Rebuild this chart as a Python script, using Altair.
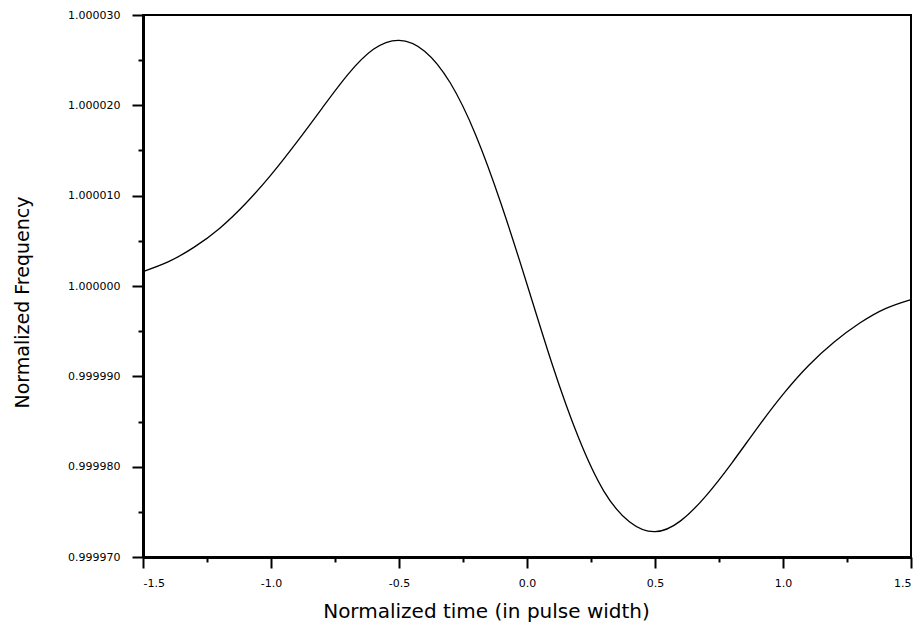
import altair as alt
import pandas as pd

# Normalized time (in pulse width)
time = [-1.5, -1.4, -1.3, -1.2, -1.1, -1.0, -0.9, -0.8, -0.7, -0.6,
        -0.5, -0.4, -0.3, -0.2, -0.1, 0.0, 0.1, 0.2, 0.3, 0.4,
        0.5, 0.6, 0.7, 0.8, 0.9, 1.0, 1.1, 1.2, 1.3, 1.4, 1.5]

# Normalized frequency
freq = [1.0000016, 1.0000027, 1.0000043, 1.0000064, 1.0000091, 1.0000123,
        1.0000159, 1.0000197, 1.0000234, 1.0000262, 1.0000272, 1.0000260,
        1.0000225, 1.0000167, 1.0000090, 1.0000002, 0.9999912, 0.9999833,
        0.9999773, 0.9999739, 0.9999728, 0.9999740, 0.9999768, 0.9999804,
        0.9999843, 0.9999880, 0.9999912, 0.9999938, 0.9999959, 0.9999975,
        0.9999985]

x_ticks = [-1.5, -1.25, -1.0, -0.75, -0.5, -0.25, 0.0, 0.25, 0.5, 0.75, 1.0, 1.25, 1.5]
y_ticks = [0.999970, 0.999975, 0.999980, 0.999985, 0.999990, 0.999995, 1.000000,
           1.000005, 1.000010, 1.000015, 1.000020, 1.000025, 1.000030]

df = pd.DataFrame({"t": time, "f": freq})

x_major = "abs(datum.value*2 - round(datum.value*2)) < 0.001"
y_major = "abs((datum.value-1)*100000 - round((datum.value-1)*100000)) < 0.01"

FONT = "DejaVu Sans"

x_axis = alt.Axis(
    values=x_ticks,
    labelExpr=f"({x_major}) ? replace(format(datum.value, '.1f'), '\u2212', '-') : ''",
    tickSize={"condition": {"test": x_major, "value": 11}, "value": 5},
    tickColor="black", tickWidth=2,
    domainColor="black", domainWidth=3,
    labelFont=FONT, labelFontSize=11, labelColor="black", labelPadding=9,
    labelOverlap=False, grid=False,
    title="Normalized time (in pulse width)",
    titleFont=FONT, titleFontSize=20, titleFontWeight="normal", titleColor="black",
    titleX=343, titleY=60, titleAlign="center", titleBaseline="alphabetic",
)

y_axis = alt.Axis(
    values=y_ticks,
    labelExpr=f"({y_major}) ? format(datum.value, '.6f') : ''",
    tickSize={"condition": {"test": y_major, "value": 11}, "value": 5},
    tickColor="black", tickWidth=2,
    domainColor="black", domainWidth=3,
    labelFont=FONT, labelFontSize=11, labelColor="black", labelPadding=12,
    labelOverlap=False, grid=False,
    title="Normalized Frequency",
    titleFont=FONT, titleFontSize=19, titleFontWeight="normal", titleColor="black",
    titleAngle=270, titleX=-115, titleY=287, titleAlign="center", titleBaseline="alphabetic",
)

chart = (
    alt.Chart(df)
    .mark_line(color="black", strokeWidth=1.3, interpolate="natural")
    .encode(
        x=alt.X("t:Q", scale=alt.Scale(domain=[-1.5, 1.5], nice=False, zero=False), axis=x_axis),
        y=alt.Y("f:Q", scale=alt.Scale(domain=[0.99997, 1.00003], nice=False, zero=False), axis=y_axis),
    )
    .properties(
        width=768,
        height=542,
        padding={"left": 135, "top": 7, "right": 3, "bottom": 67},
        autosize=alt.AutoSizeParams(type="none"),
        background="white",
    )
    .configure_view(stroke="black", strokeWidth=2)
)

chart.save("out.html", embed_options={"renderer": "svg", "actions": False})
